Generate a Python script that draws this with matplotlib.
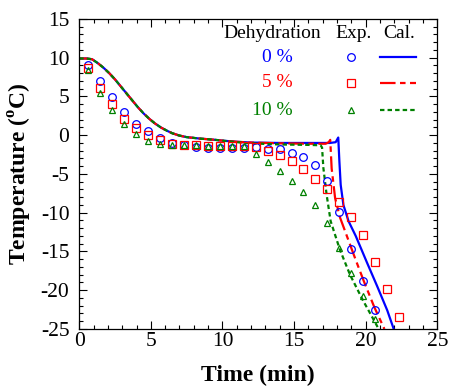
import matplotlib
matplotlib.use("Agg")
import matplotlib.pyplot as plt
from matplotlib.ticker import MultipleLocator

plt.rcParams['font.family'] = ['Liberation Serif', 'DejaVu Serif']
plt.rcParams['mathtext.fontset'] = 'custom'
plt.rcParams['mathtext.rm'] = 'Liberation Serif'
plt.rcParams['mathtext.bf'] = 'Liberation Serif:bold'
plt.rcParams['axes.unicode_minus'] = False

# experimental points (min, degC)
exp_time = [0.63, 1.46, 2.30, 3.13, 3.97, 4.80, 5.64, 6.47, 7.30, 8.14,
            8.97, 9.81, 10.64, 11.48, 12.31, 13.15, 13.98, 14.82, 15.65, 16.49,
            17.32, 18.15, 18.99, 19.82, 20.66, 21.49, 22.33]
exp_0 = [9.0, 7.0, 4.9, 3.0, 1.5, 0.5, -0.4, -1.0, -1.3, -1.5,
         -1.6, -1.7, -1.7, -1.6, -1.5, -1.8, -1.8, -2.3, -2.8, -3.9,
         -5.9, -9.9, -14.7, -18.8, -22.5]
exp_5 = [8.7, 6.1, 4.0, 2.1, 0.9, 0.0, -0.6, -1.1, -1.3, -1.3,
         -1.35, -1.35, -1.45, -1.45, -1.55, -2.0, -2.5, -3.3, -4.3, -5.6,
         -6.9, -8.6, -10.5, -12.9, -16.3, -19.8, -23.4]
exp_10 = [8.4, 5.5, 3.3, 1.5, 0.2, -0.7, -1.1, -1.3, -1.3, -1.3,
          -1.35, -1.35, -1.35, -1.45, -2.4, -3.45, -4.6, -5.9, -7.3, -9.0,
          -11.3, -14.5, -17.8, -20.7, -23.7]

# calculated curves
cool_time = [0, 0.5, 0.9, 1.3, 1.7, 2.1, 2.5, 2.9, 3.3, 3.7, 4.1, 4.5, 4.9,
             5.3, 5.7, 6.1, 6.5, 7.0, 7.5, 8.0, 8.5, 9.0, 9.5, 10.0]
cool_temp = [9.9, 9.9, 9.8, 9.3, 8.7, 8.0, 7.2, 6.3, 5.4, 4.5, 3.6, 2.8, 2.1,
             1.5, 1.0, 0.6, 0.25, -0.05, -0.25, -0.35, -0.45, -0.52, -0.6, -0.7]

cal0_time = [11.0, 12.0, 14.0, 16.0, 17.5, 17.9, 18.08, 18.16, 18.25, 18.44,
             18.8, 19.3, 20.1, 20.8, 21.5, 21.95]
cal0_temp = [-0.85, -0.95, -1.0, -1.0, -1.0, -0.9, -0.3, -3.4, -6.4, -9.0,
             -11.1, -13.0, -16.5, -19.5, -22.6, -25.0]
cal5_time = [11.0, 12.0, 14.0, 16.0, 17.2, 17.42, 17.52, 17.62, 17.86, 18.2,
             18.7, 19.3, 19.9, 20.6, 21.3]
cal5_temp = [-0.85, -0.95, -1.05, -1.1, -1.1, -0.9, -0.6, -4.3, -8.1, -10.6,
             -13.1, -16.1, -19.0, -22.2, -25.0]
cal10_time = [11.0, 12.0, 14.0, 16.0, 16.85, 16.95, 17.04, 17.27, 17.55, 18.2,
              18.9, 19.8, 20.4, 20.9]
cal10_temp = [-0.9, -1.05, -1.2, -1.25, -1.3, -1.6, -4.2, -7.7, -11.1, -14.8,
              -18.0, -21.3, -23.3, -25.0]

blue = '#0000ff'
red = '#ff0000'
green = '#008000'

fig = plt.figure(figsize=(4.5, 3.87), dpi=100)
ax = fig.add_axes([0.176, 0.150, 0.796, 0.801])

ax.plot(cool_time + cal0_time, cool_temp + cal0_temp, color=blue, lw=1.6)
ax.plot(cool_time + cal5_time, cool_temp + cal5_temp, color=red, lw=1.6,
        dashes=(7, 2, 2.5, 2))
ax.plot(cool_time + cal10_time, cool_temp + cal10_temp, color=green, lw=1.6,
        dashes=(2, 1.4))

ax.plot(exp_time[:len(exp_0)], exp_0, 'o', mfc='none', mec=blue, ms=5.5, mew=0.9)
ax.plot(exp_time[:len(exp_5)], exp_5, 's', mfc='none', mec=red, ms=5.5, mew=0.9)
ax.plot(exp_time[:len(exp_10)], exp_10, '^', mfc='none', mec=green, ms=4.5, mew=0.9)

ax.set_xlim(0, 25)
ax.set_ylim(-25, 15)
ax.xaxis.set_major_locator(MultipleLocator(5))
ax.xaxis.set_minor_locator(MultipleLocator(1))
ax.yaxis.set_major_locator(MultipleLocator(5))
ax.yaxis.set_minor_locator(MultipleLocator(1))
ax.tick_params(which='both', direction='in', top=True, right=True, labelsize=15.5)
ax.tick_params(which='major', length=6, width=0.8)
ax.tick_params(which='minor', length=3, width=0.8)
ax.tick_params(axis='x', pad=2)
ax.tick_params(axis='y', pad=7)
for s in ax.spines.values():
    s.set_linewidth(0.9)

ax.set_xlabel('Time (min)', fontsize=17, fontweight='bold')
ax.set_ylabel(r'Temperature ($^{\mathbf{o}}$C)', fontsize=17, fontweight='bold')
ax.xaxis.set_label_coords(0.5, -0.115)
ax.yaxis.set_label_coords(-0.125, 0.5)

# legend drawn by hand
tr = ax.transAxes
ax.text(0.538, 0.952, 'Dehydration', transform=tr, ha='center', va='center', fontsize=14)
ax.text(0.765, 0.952, 'Exp.', transform=tr, ha='center', va='center', fontsize=14)
ax.text(0.893, 0.952, 'Cal.', transform=tr, ha='center', va='center', fontsize=14)
rows = [0.877, 0.794, 0.706]
labels = ['0 %', '5 %', '10 %']
colors = [blue, red, green]
markers = [('o', 5.5), ('s', 5.5), ('^', 4.5)]
styles = [dict(), dict(dashes=(7, 2, 2.5, 2)), dict(dashes=(2, 1.4))]
for yy, lab, c, (m, ms), st in zip(rows, labels, colors, markers, styles):
    ax.text(0.597, yy, lab, transform=tr, ha='right', va='center', fontsize=14, color=c)
    ax.plot([0.759], [yy], m, mfc='none', mec=c, ms=ms, mew=0.9, transform=tr)
    ax.plot([0.840, 0.941], [yy, yy], color=c, lw=1.6, transform=tr, **st)

fig.savefig('out.png', dpi=100)
